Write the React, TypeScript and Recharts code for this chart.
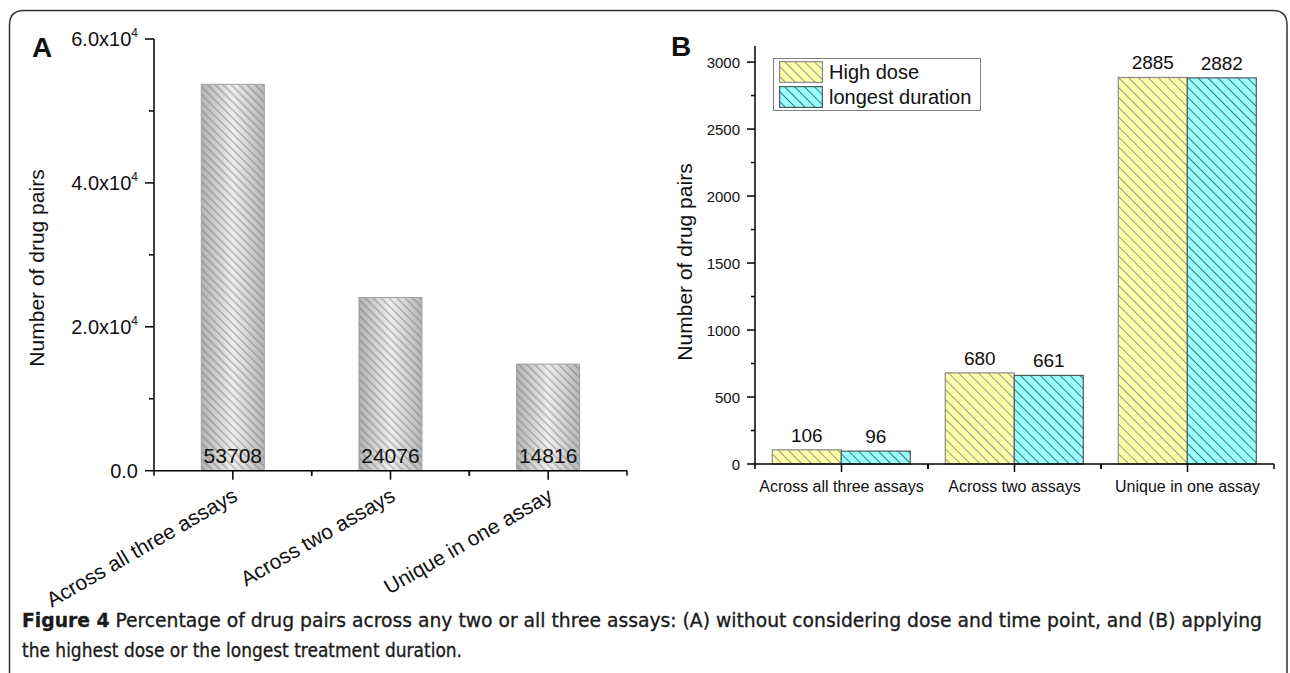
import React from "react";
import { BarChart, Bar, XAxis, YAxis, LabelList, Legend } from "recharts";

// ---- data ----
const categories = ["Across all three assays", "Across two assays", "Unique in one assay"];
const pairCounts = [53708, 24076, 14816];
const highDose = [106, 680, 2885];
const longestDuration = [96, 661, 2882];

const ticksA = [0, 10000, 20000, 30000, 40000, 50000, 60000];
const labelledTicksA = [0, 20000, 40000, 60000];
const ticksB = [0, 250, 500, 750, 1000, 1250, 1500, 1750, 2000, 2250, 2500, 2750, 3000];
const labelledTicksB = [0, 500, 1000, 1500, 2000, 2500, 3000];

const seriesNamesB = { high: "High dose", longest: "longest duration" };

const captionLine1 =
  " Percentage of drug pairs across any two or all three assays: (A) without considering dose and time point, and (B) applying";
const captionLine2 = "the highest dose or the longest treatment duration.";

const FONT = '"Liberation Sans", Arial, Helvetica, sans-serif';
const CAPTION_FONT = '"Liberation Sans Narrow", "DejaVu Sans Condensed", "Liberation Sans", sans-serif';

const dataA = categories.map((name, i) => ({ name, pairs: pairCounts[i] }));
const dataB = categories.map((name, i) => ({
  name,
  high: highDose[i],
  longest: longestDuration[i],
}));

// chart frames
const A_W = 640;
const A_H = 640;
const A_LEFT = 154;
const A_RIGHT = 13;
const A_TOP = 39;
const A_XH = A_H - 470.7;
const halfBandA = (A_W - A_LEFT - A_RIGHT) / categories.length / 2;

const B_W = 650;
const B_H = 640;
const B_LEFT = 115;
const B_RIGHT = 16;
const B_TOP = 46;
const B_XH = B_H - 464;
const halfBandB = (B_W - B_LEFT - B_RIGHT) / categories.length / 2;

const barStylesB = {
  high: { fill: "#ffffaa", hatch: "#8e8e80", stroke: "#8a8a8a", pattern: "hatchHigh" },
  longest: { fill: "#99ffff", hatch: "#3a6868", stroke: "#4d5a5a", pattern: "hatchLong" },
};

function YTickA(props: any) {
  const { x, y, payload } = props;
  const major = labelledTicksA.includes(payload.value);
  const mant = (payload.value / 10000).toFixed(1);
  return (
    <g>
      <line x1={x - (major ? 9 : 5)} x2={x} y1={y} y2={y} stroke="#000" strokeWidth={1.5} />
      {major && (
        <text x={x - 16} y={y} dy={7} textAnchor="end" fontSize={20} fill="#111" fontFamily={FONT}>
          {mant}
          {payload.value !== 0 && "x10"}
          {payload.value !== 0 && (
            <tspan dy={-9} fontSize={12}>
              4
            </tspan>
          )}
        </text>
      )}
    </g>
  );
}

function XTickA(props: any) {
  const { x, y, payload } = props;
  return (
    <g>
      <line x1={x} x2={x} y1={y} y2={y + 9} stroke="#000" strokeWidth={1.5} />
      <line x1={x - halfBandA} x2={x - halfBandA} y1={y} y2={y + 5} stroke="#000" strokeWidth={1.5} />
      <line x1={x + halfBandA} x2={x + halfBandA} y1={y} y2={y + 5} stroke="#000" strokeWidth={1.5} />
      <text
        transform={`translate(${x + 6},${y + 29}) rotate(-30)`}
        textAnchor="end"
        fontSize={21}
        fill="#111"
        fontFamily={FONT}
      >
        {payload.value}
      </text>
    </g>
  );
}

function YTickB(props: any) {
  const { x, y, payload } = props;
  const major = labelledTicksB.includes(payload.value);
  return (
    <g>
      <line x1={x - (major ? 8 : 4)} x2={x} y1={y} y2={y} stroke="#000" strokeWidth={1.5} />
      {major && (
        <text x={x - 15} y={y} dy={5.5} textAnchor="end" fontSize={15} fill="#111" fontFamily={FONT}>
          {payload.value}
        </text>
      )}
    </g>
  );
}

function XTickB(props: any) {
  const { x, y, payload } = props;
  return (
    <g>
      <line x1={x} x2={x} y1={y} y2={y + 8} stroke="#000" strokeWidth={1.5} />
      <line x1={x - halfBandB} x2={x - halfBandB} y1={y} y2={y + 5} stroke="#000" strokeWidth={1.5} />
      <line x1={x + halfBandB} x2={x + halfBandB} y1={y} y2={y + 5} stroke="#000" strokeWidth={1.5} />
      <text x={x} y={y + 27.5} textAnchor="middle" fontSize={16} fill="#111" fontFamily={FONT}>
        {payload.value}
      </text>
    </g>
  );
}

function ShadedBar(p: any) {
  const { x, y, width, height } = p;
  if (!height || height <= 0) return null;
  return (
    <g>
      <rect x={x} y={y} width={width} height={height} fill="url(#gradA)" />
      <rect x={x} y={y} width={width} height={height} fill="url(#hatchA)" stroke="#a0a0a0" strokeWidth={1} />
    </g>
  );
}

function hatchedBar(key: "high" | "longest") {
  const s = barStylesB[key];
  return (p: any) => {
    const { x, y, width, height } = p;
    if (!height || height <= 0) return null;
    return (
      <g>
        <rect x={x} y={y} width={width} height={height} fill={s.fill} />
        <rect x={x} y={y} width={width} height={height} fill={`url(#${s.pattern})`} stroke={s.stroke} strokeWidth={1.2} />
      </g>
    );
  };
}

function hatchDefs(prefix: string) {
  return (
    <defs>
      <pattern id={`${prefix}hatchHigh`} width={7} height={7} patternUnits="userSpaceOnUse" patternTransform="rotate(-45)">
        <line x1={3.5} y1={0} x2={3.5} y2={7} stroke={barStylesB.high.hatch} strokeWidth={0.9} />
      </pattern>
      <pattern id={`${prefix}hatchLong`} width={7} height={7} patternUnits="userSpaceOnUse" patternTransform="rotate(-45)">
        <line x1={3.5} y1={0} x2={3.5} y2={7} stroke={barStylesB.longest.hatch} strokeWidth={0.9} />
      </pattern>
    </defs>
  );
}

function LegendB() {
  const keys: ("high" | "longest")[] = ["high", "longest"];
  return (
    <div
      style={{
        border: "1px solid #808080",
        background: "#fff",
        padding: "2px 9px 2px 5px",
        fontFamily: FONT,
        fontSize: 20,
        color: "#111",
        display: "inline-block",
      }}
    >
      {keys.map((k, i) => {
        const s = barStylesB[k];
        return (
          <div key={k} style={{ display: "flex", alignItems: "center", height: 22, marginTop: i ? 3 : 0 }}>
            <svg width={44} height={22} style={{ display: "block" }}>
              {hatchDefs("leg")}
              <rect x={0.6} y={0.6} width={42.8} height={20.8} fill={s.fill} />
              <rect x={0.6} y={0.6} width={42.8} height={20.8} fill={`url(#leg${s.pattern})`} stroke={s.stroke} strokeWidth={1.2} />
            </svg>
            <span style={{ marginLeft: 6, lineHeight: "22px", whiteSpace: "nowrap" }}>{seriesNamesB[k]}</span>
          </div>
        );
      })}
    </div>
  );
}

function yTitle(cx: number, cy: number) {
  return (props: any) => {
    const vb = props.viewBox || {};
    const x = (vb.x ?? 0) + cx;
    return (
      <text
        x={x}
        y={cy}
        transform={`rotate(-90, ${x}, ${cy})`}
        textAnchor="middle"
        dominantBaseline="central"
        fontSize={21}
        fill="#111"
        fontFamily={FONT}
      >
        Number of drug pairs
      </text>
    );
  };
}

export default function App() {
  return (
    <div
      style={{
        position: "absolute",
        left: 0,
        top: 0,
        width: 1290,
        height: 673,
        background: "#fff",
        overflow: "hidden",
        fontFamily: FONT,
      }}
    >
      <svg width={1290} height={673} style={{ position: "absolute", left: 0, top: 0 }}>
        <path
          d="M 9.5 700 L 9.5 25 Q 9.5 10.5 24 10.5 L 1273 10.5 Q 1287 10.5 1287 25 L 1287 700"
          fill="none"
          stroke="#333"
          strokeWidth={1.5}
        />
        <text x={32} y={57} fontSize={28} fontWeight="bold" fill="#111" fontFamily={FONT}>
          A
        </text>
        <text x={671} y={56} fontSize={28} fontWeight="bold" fill="#111" fontFamily={FONT}>
          B
        </text>
        <text
          x={22}
          y={627}
          fontSize={19}
          fill="#1a1a1a"
          stroke="#1a1a1a"
          strokeWidth={0.3}
          textLength={1240}
          lengthAdjust="spacingAndGlyphs"
          fontFamily={CAPTION_FONT}
        >
          <tspan fontWeight="bold">Figure 4</tspan>
          {captionLine1}
        </text>
        <text
          x={22}
          y={657}
          fontSize={19}
          fill="#1a1a1a"
          stroke="#1a1a1a"
          strokeWidth={0.3}
          textLength={440}
          lengthAdjust="spacingAndGlyphs"
          fontFamily={CAPTION_FONT}
        >
          {captionLine2}
        </text>
      </svg>

      <div style={{ position: "absolute", left: 0, top: 0 }}>
        <BarChart
          width={A_W}
          height={A_H}
          data={dataA}
          margin={{ top: A_TOP, right: A_RIGHT, left: 0, bottom: 0 }}
          barCategoryGap="30%"
        >
          <defs>
            <linearGradient id="gradA" x1="0" y1="0" x2="1" y2="0">
              <stop offset="0" stopColor="#b4b4b4" />
              <stop offset="0.5" stopColor="#efefef" />
              <stop offset="1" stopColor="#b8b8b8" />
            </linearGradient>
            <pattern id="hatchA" width={5.6} height={5.6} patternUnits="userSpaceOnUse" patternTransform="rotate(-45)">
              <line x1={2.8} y1={0} x2={2.8} y2={5.6} stroke="#5a5a5a" strokeWidth={0.6} />
            </pattern>
          </defs>
          <XAxis
            dataKey="name"
            height={A_XH}
            interval={0}
            tickSize={0}
            tickMargin={0}
            tickLine={false}
            axisLine={{ stroke: "#000", strokeWidth: 1.5 }}
            tick={<XTickA />}
          />
          <XAxis
            xAxisId="top"
            orientation="top"
            dataKey="name"
            height={0}
            tick={false}
            tickLine={false}
            axisLine={{ stroke: "#000", strokeWidth: 1.5 }}
          />
          <YAxis
            width={A_LEFT}
            domain={[0, 60000]}
            ticks={ticksA}
            interval={0}
            tickSize={0}
            tickMargin={0}
            tickLine={false}
            axisLine={{ stroke: "#000", strokeWidth: 1.5 }}
            tick={<YTickA />}
            label={{ content: yTitle(36, 268) }}
          />
          <YAxis
            yAxisId="right"
            orientation="right"
            width={0}
            domain={[0, 1]}
            tick={false}
            tickLine={false}
            axisLine={{ stroke: "#000", strokeWidth: 1.5 }}
          />
          <Bar dataKey="pairs" isAnimationActive={false} shape={ShadedBar}>
            <LabelList
              dataKey="pairs"
              content={(p: any) => (
                <text
                  x={Number(p.x) + Number(p.width) / 2}
                  y={Number(p.y) + Number(p.height) - 8}
                  textAnchor="middle"
                  fontSize={21}
                  fill="#111"
                  fontFamily={FONT}
                >
                  {p.value}
                </text>
              )}
            />
          </Bar>
        </BarChart>
      </div>

      <div style={{ position: "absolute", left: 640, top: 0 }}>
        <BarChart
          width={B_W}
          height={B_H}
          data={dataB}
          margin={{ top: B_TOP, right: B_RIGHT, left: 0, bottom: 0 }}
          barCategoryGap="10%"
          barGap={0}
        >
          {hatchDefs("")}
          <XAxis
            dataKey="name"
            height={B_XH}
            interval={0}
            tickSize={0}
            tickMargin={0}
            tickLine={false}
            axisLine={{ stroke: "#000", strokeWidth: 1.5 }}
            tick={<XTickB />}
          />
          <XAxis
            xAxisId="top"
            orientation="top"
            dataKey="name"
            height={0}
            tick={false}
            tickLine={false}
            axisLine={{ stroke: "#000", strokeWidth: 1.5 }}
          />
          <YAxis
            width={B_LEFT}
            domain={[0, 3120]}
            ticks={ticksB}
            interval={0}
            tickSize={0}
            tickMargin={0}
            tickLine={false}
            axisLine={{ stroke: "#000", strokeWidth: 1.5 }}
            tick={<YTickB />}
            label={{ content: yTitle(44.5, 262) }}
          />
          <YAxis
            yAxisId="right"
            orientation="right"
            width={0}
            domain={[0, 1]}
            tick={false}
            tickLine={false}
            axisLine={{ stroke: "#000", strokeWidth: 1.5 }}
          />
          <Legend
            layout="vertical"
            align="center"
            verticalAlign="middle"
            wrapperStyle={{ left: 133, top: 58, width: "auto", height: "auto" }}
            content={<LegendB />}
          />
          {(["high", "longest"] as const).map((k) => (
            <Bar key={k} dataKey={k} name={seriesNamesB[k]} isAnimationActive={false} shape={hatchedBar(k)}>
              <LabelList
                dataKey={k}
                content={(p: any) => (
                  <text
                    x={Number(p.x) + Number(p.width) / 2}
                    y={Number(p.y) - 8}
                    textAnchor="middle"
                    fontSize={19}
                    fill="#111"
                    fontFamily={FONT}
                  >
                    {p.value}
                  </text>
                )}
              />
            </Bar>
          ))}
        </BarChart>
      </div>
    </div>
  );
}
